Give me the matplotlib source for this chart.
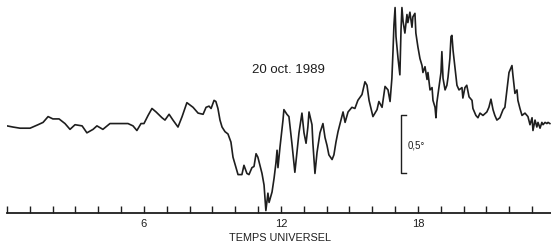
import matplotlib
matplotlib.use("Agg")
import matplotlib.pyplot as plt

plt.rcParams['font.family'] = ['Liberation Sans', 'DejaVu Sans']

# Universal time (hours) and deviation (degrees)
hours = [0.00, 0.26, 0.57, 1.01, 1.36, 1.58, 1.80, 2.01, 2.28, 2.54, 2.76, 2.98, 3.29, 3.50, 3.77,
         3.94, 4.20, 4.51, 4.86, 5.30, 5.52, 5.69, 5.87, 6.00, 6.18, 6.35, 6.53, 6.79, 6.92, 7.10,
         7.27, 7.49, 7.67, 7.88, 8.15, 8.37, 8.59, 8.72, 8.85, 8.94, 9.07, 9.15, 9.24, 9.33, 9.42,
         9.55, 9.68, 9.81, 9.90, 10.03, 10.12, 10.29, 10.38, 10.51, 10.60, 10.73, 10.82, 10.91, 10.99,
         11.08, 11.17, 11.26, 11.34, 11.43, 11.48, 11.61, 11.70, 11.78, 11.83, 11.87, 11.96, 12.09,
         12.13, 12.26, 12.35, 12.48, 12.61, 12.70, 12.79, 12.92, 13.01, 13.10, 13.18, 13.23, 13.36,
         13.40, 13.49, 13.58, 13.71, 13.84, 13.93, 14.02, 14.10, 14.24, 14.32, 14.41, 14.50, 14.63,
         14.72, 14.81, 14.94, 15.11, 15.24, 15.37, 15.55, 15.68, 15.77, 15.86, 16.03, 16.21, 16.29,
         16.43, 16.56, 16.69, 16.78, 16.86, 16.91, 16.95, 17.00, 17.04, 17.13, 17.21, 17.26, 17.30,
         17.35, 17.43, 17.52, 17.56, 17.65, 17.74, 17.78, 17.87, 17.91, 18.00, 18.09, 18.18, 18.22,
         18.31, 18.40, 18.44, 18.53, 18.62, 18.66, 18.75, 18.79, 18.83, 18.92, 19.01, 19.05, 19.10,
         19.19, 19.27, 19.32, 19.40, 19.45, 19.49, 19.54, 19.62, 19.71, 19.80, 19.93, 19.97, 20.06,
         20.14, 20.24, 20.37, 20.41, 20.54, 20.63, 20.72, 20.85, 21.02, 21.11, 21.20, 21.29, 21.37,
         21.46, 21.59, 21.73, 21.81, 21.90, 21.99, 22.12, 22.16, 22.25, 22.34, 22.38, 22.47, 22.56,
         22.69, 22.82, 22.91, 23.00, 23.04, 23.13, 23.21, 23.26, 23.35, 23.43, 23.48, 23.57, 23.65,
         23.70, 23.78]
deviation = [0.01, 0.00, -0.01, -0.01, 0.02, 0.04, 0.09, 0.07, 0.07, 0.03, -0.02, 0.02, 0.01, -0.05, -0.02,
             0.01, -0.02, 0.03, 0.03, 0.03, 0.01, -0.03, 0.03, 0.03, 0.10, 0.16, 0.13, 0.08, 0.06, 0.11,
             0.06, 0.00, 0.09, 0.21, 0.17, 0.12, 0.11, 0.17, 0.18, 0.16, 0.23, 0.22, 0.16, 0.06, 0.00,
             -0.04, -0.06, -0.13, -0.26, -0.35, -0.41, -0.41, -0.33, -0.40, -0.41, -0.35, -0.34, -0.23, -0.26,
             -0.33, -0.40, -0.50, -0.72, -0.57, -0.65, -0.56, -0.44, -0.31, -0.20, -0.35, -0.17, 0.06,
             0.15, 0.11, 0.09, -0.14, -0.39, -0.22, -0.05, 0.12, -0.05, -0.14, 0.00, 0.13, 0.02,
             -0.14, -0.40, -0.22, -0.05, 0.03, -0.09, -0.16, -0.24, -0.28, -0.24, -0.13, -0.04, 0.06,
             0.13, 0.04, 0.13, 0.17, 0.16, 0.23, 0.28, 0.39, 0.36, 0.23, 0.09, 0.15, 0.22,
             0.17, 0.35, 0.32, 0.22, 0.42, 0.66, 0.88, 1.03, 0.78, 0.59, 0.45, 0.84, 1.03,
             0.91, 0.81, 0.97, 0.90, 0.99, 0.86, 0.95, 0.98, 0.81, 0.69, 0.59, 0.53, 0.47,
             0.52, 0.41, 0.47, 0.32, 0.34, 0.23, 0.17, 0.08, 0.21, 0.34, 0.47, 0.65, 0.42,
             0.32, 0.36, 0.43, 0.59, 0.78, 0.79, 0.66, 0.52, 0.36, 0.32, 0.34, 0.25, 0.34,
             0.36, 0.26, 0.23, 0.16, 0.10, 0.08, 0.12, 0.10, 0.13, 0.17, 0.24, 0.15, 0.10,
             0.06, 0.08, 0.15, 0.17, 0.32, 0.47, 0.53, 0.45, 0.29, 0.32, 0.23, 0.16, 0.10,
             0.12, 0.09, 0.02, 0.08, -0.03, 0.06, 0.00, 0.04, -0.01, 0.04, 0.02, 0.04, 0.03,
             0.04, 0.03]

tick_hours = list(range(24))
labeled_hours = [6, 12, 18]
title = "20 oct. 1989"
xlabel = "TEMPS UNIVERSEL"
scale_value = 0.5
scale_label = "0,5°"

W, H = 551, 249
fig = plt.figure(figsize=(W / 100, H / 100), dpi=100)
ax = fig.add_axes([7 / W, 36 / H, 1 - 7 / W, 1 - 36 / H])
ax.set_xlim(0, 23.83)
ax.set_ylim(-0.741, 1.095)

ink = '#1e1e1e'
ax.plot(hours, deviation, color=ink, lw=1.2, solid_joinstyle='round')

for s in ['top', 'right', 'left']:
    ax.spines[s].set_visible(False)
ax.spines['bottom'].set_color(ink)
ax.spines['bottom'].set_linewidth(1.3)
ax.set_yticks([])
ax.set_xticks(tick_hours)
ax.set_xticklabels([str(h) if h in labeled_hours else '' for h in tick_hours])
ax.tick_params(axis='x', direction='in', length=5, width=1.0, color=ink,
               labelsize=8, pad=4, labelcolor=ink)

ax.text(12.35, 0.49, title, ha='center', va='center', fontsize=9.5, color=ink)
ax.text(11.96, -0.957, xlabel, ha='center', va='center', fontsize=7.8, color=ink,
        transform=ax.transData, clip_on=False)

# scale bar
x0, top = 17.26, 0.103
bot = top - scale_value
ax.plot([x0 + 0.22, x0, x0, x0 + 0.22], [top, top, bot, bot], color=ink, lw=1.0)
ax.text(17.56, (top + bot) / 2 - 0.01, scale_label, ha='left', va='center', fontsize=7,
        color=ink)

fig.savefig('out.png', dpi=100, facecolor='white')
